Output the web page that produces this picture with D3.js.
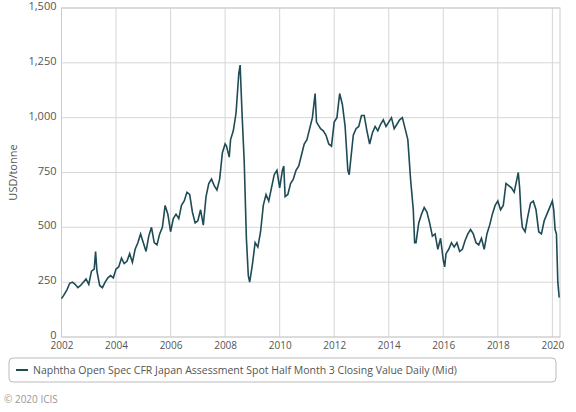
<!DOCTYPE html>
<html><head><meta charset="utf-8">
<script src="https://cdn.jsdelivr.net/npm/d3@7"></script>
<style>body{margin:0;background:#fff;font-family:"Open Sans",sans-serif}</style>
</head><body><svg id="c" width="576" height="412"></svg>
<script>
const seriesName = "Naphtha Open Spec CFR Japan Assessment Spot Half Month 3 Closing Value Daily (Mid)";
const yTicks = [0,250,500,750,1000,1250,1500];
const xTicks = [2002,2004,2006,2008,2010,2012,2014,2016,2018,2020];
const dates = [
2002.0,2002.08,2002.2,2002.3,2002.4,2002.5,2002.6,2002.7,2002.8,2002.9,
2003.0,2003.1,2003.2,2003.25,2003.3,2003.4,2003.5,2003.6,2003.7,2003.8,2003.9,
2004.0,2004.1,2004.2,2004.3,2004.4,2004.5,2004.6,2004.7,2004.8,2004.9,
2005.0,2005.1,2005.2,2005.3,2005.4,2005.5,2005.6,2005.7,2005.8,2005.9,
2006.0,2006.1,2006.2,2006.3,2006.4,2006.5,2006.6,2006.7,2006.8,2006.9,
2007.0,2007.1,2007.2,2007.3,2007.4,2007.5,2007.6,2007.7,2007.8,2007.9,
2008.0,2008.05,2008.15,2008.2,2008.3,2008.4,2008.5,2008.55,2008.62,2008.7,2008.78,2008.85,2008.9,
2009.0,2009.1,2009.2,2009.3,2009.4,2009.5,2009.6,2009.7,2009.8,2009.9,
2010.0,2010.1,2010.15,2010.2,2010.3,2010.4,2010.5,2010.6,2010.7,2010.8,2010.9,
2011.0,2011.1,2011.2,2011.3,2011.35,2011.5,2011.6,2011.7,2011.8,2011.9,
2012.0,2012.1,2012.2,2012.3,2012.4,2012.5,2012.55,2012.6,2012.7,2012.8,2012.9,
2013.0,2013.1,2013.2,2013.3,2013.4,2013.5,2013.6,2013.7,2013.8,2013.9,
2014.0,2014.1,2014.2,2014.3,2014.4,2014.5,2014.6,2014.7,2014.8,2014.9,2014.95,
2015.0,2015.1,2015.2,2015.3,2015.4,2015.5,2015.6,2015.7,2015.8,2015.9,
2016.0,2016.05,2016.1,2016.2,2016.3,2016.4,2016.5,2016.6,2016.7,2016.8,2016.9,
2017.0,2017.1,2017.2,2017.3,2017.4,2017.5,2017.6,2017.7,2017.8,2017.9,
2018.0,2018.1,2018.2,2018.3,2018.4,2018.5,2018.6,2018.7,2018.75,2018.8,2018.85,2018.9,
2019.0,2019.1,2019.2,2019.3,2019.4,2019.5,2019.6,2019.7,2019.8,2019.9,
2020.0,2020.05,2020.1,2020.15,2020.2,2020.25];
const values = [
175,190,215,245,250,240,225,235,250,265,
240,300,310,390,300,235,225,250,270,280,270,
310,320,360,335,345,380,340,400,430,470,
430,390,460,500,430,420,470,500,600,560,
480,540,560,540,600,620,660,650,570,520,
530,580,510,640,700,720,690,670,720,840,
880,870,820,900,940,1020,1200,1240,1020,800,450,280,250,
330,430,410,480,600,650,620,680,740,760,
680,760,780,640,650,700,720,760,780,830,880,
900,950,1000,1110,980,950,940,920,880,870,
980,1000,1110,1060,960,760,740,800,920,950,960,
1010,1010,940,880,930,960,940,970,990,960,
980,1000,950,970,990,1000,950,900,720,580,430,
430,520,560,590,570,520,460,470,400,450,
350,320,380,400,430,410,430,390,400,440,470,
490,470,430,420,450,400,470,510,560,600,
620,580,600,700,690,680,660,720,750,680,560,500,
480,550,610,620,580,480,470,530,560,590,
620,580,490,470,250,180];
const data = dates.map((d,i)=>({x:d,y:values[i]}));
const svg = d3.select("#c");
const L=61.5,R=560,T=8,B=337;
const x = d3.scaleLinear().domain([2002,2020.28]).range([L,R]);
const y = d3.scaleLinear().domain([0,1500]).range([B,T]);
const g = svg.append("g");
g.selectAll(".hg").data(yTicks).join("line").attr("x1",L).attr("x2",R).attr("y1",d=>y(d)).attr("y2",d=>y(d)).attr("stroke","#d6d6d6");
g.selectAll(".vg").data(xTicks).join("line").attr("y1",T).attr("y2",B).attr("x1",d=>x(d)).attr("x2",d=>x(d)).attr("stroke","#d6d6d6");
g.append("rect").attr("x",L).attr("y",T).attr("width",R-L).attr("height",B-T).attr("fill","none").attr("stroke","#ccc");
svg.append("g").attr("transform",`translate(${L},-2)`).call(d3.axisLeft(y).tickValues(yTicks).tickFormat(d3.format(",")).tickSize(0).tickPadding(5))
 .call(a=>a.select(".domain").remove()).selectAll("text").attr("font-size",11).attr("fill","#555").attr("font-family","Open Sans");
svg.append("g").attr("transform",`translate(0,${B})`).call(d3.axisBottom(x).tickValues(xTicks).tickFormat(d3.format("d")).tickSize(0).tickPadding(5))
 .call(a=>a.select(".domain").remove()).selectAll("text").attr("font-size",10).attr("fill","#555").attr("font-family","Open Sans");
svg.append("text").attr("transform","rotate(-90)").attr("x",-(T+B)/2).attr("y",17).attr("text-anchor","middle").attr("font-size",11).attr("fill","#555").text("USD/tonne");
svg.append("path").datum(data).attr("fill","none").attr("stroke","#1e4b55").attr("stroke-width",1.6)
 .attr("d",d3.line().x(d=>x(d.x)).y(d=>y(d.y)));
svg.append("rect").attr("x",9).attr("y",358).attr("width",547).attr("height",24).attr("rx",4).attr("fill","#fff").attr("stroke","#bbb");
svg.append("line").attr("x1",16).attr("x2",28).attr("y1",370).attr("y2",370).attr("stroke","#1e4b55").attr("stroke-width",2);
svg.append("text").attr("x",33).attr("y",374).attr("font-size",10.5).attr("fill","#555").text(seriesName);
svg.append("text").attr("x",4).attr("y",403).attr("font-size",10).attr("fill","#999").text("© 2020 ICIS");
</script></body></html>
